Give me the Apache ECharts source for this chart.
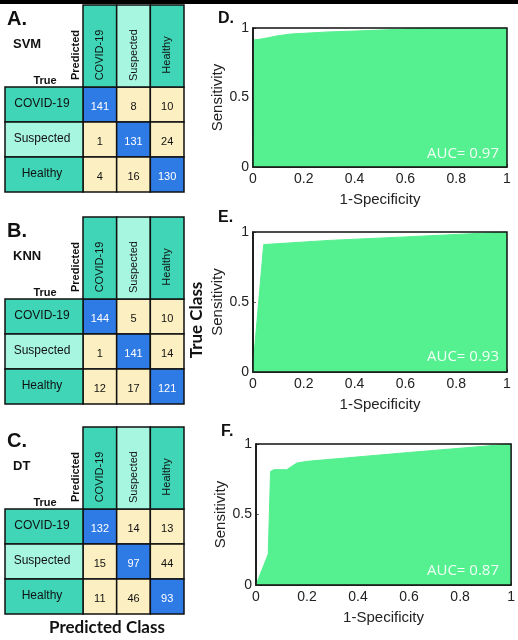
<!DOCTYPE html>
<html lang="en">
<head>
    <meta charset="utf-8">
    <title>Confusion matrices and ROC curves</title>
    <script src="https://cdn.jsdelivr.net/npm/echarts@6/dist/echarts.min.js"></script>
    <style>
        html, body { margin: 0; padding: 0; background: #fff; }
        #main { width: 518px; height: 640px; }
    </style>
</head>
<body>
<div id="main"></div>
<script type="text/javascript">
// 类别与混淆矩阵
var classes = ['COVID-19', 'Suspected', 'Healthy'];
var svmMatrix = [[141, 8, 10], [1, 131, 24], [4, 16, 130]];
var knnMatrix = [[144, 5, 10], [1, 141, 14], [12, 17, 121]];
var dtMatrix  = [[132, 14, 13], [15, 97, 44], [11, 46, 93]];
var modelNames = ['SVM', 'KNN', 'DT'];
var panelLetters = ['A.', 'B.', 'C.'];
var rocLetters = ['D.', 'E.', 'F.'];

// ROC 曲线 (1-Specificity, Sensitivity)
var svmFpr = [0, 0.005, 0.03, 0.06, 0.1, 0.15, 0.2, 0.3, 0.4, 0.5, 0.6, 0.7, 1];
var svmTpr = [0, 0.915, 0.92, 0.93, 0.945, 0.957, 0.962, 0.972, 0.978, 0.985, 0.993, 1, 1];
var knnFpr = [0, 0.004, 0.042, 0.3, 0.6, 1];
var knnTpr = [0, 0.12, 0.91, 0.94, 0.965, 1];
var dtFpr = [0, 0.048, 0.057, 0.07, 0.12, 0.16, 0.2, 0.6, 1];
var dtTpr = [0, 0.22, 0.805, 0.818, 0.818, 0.865, 0.877, 0.94, 1];
var aucValues = ['0.97', '0.93', '0.87'];

var matrices = [svmMatrix, knnMatrix, dtMatrix];
var rocData = [[svmFpr, svmTpr], [knnFpr, knnTpr], [dtFpr, dtTpr]];

var teal = '#3fd5b6', lightTeal = '#a7f6e0', beige = '#fcefc2', blue = '#2f7be6', green = '#55f08f';
var labelColors = [teal, lightTeal, teal];

var matTops = [5, 217, 427];
var rocGrids = [
    {left: 253, top: 28, width: 254, height: 139},
    {left: 253, top: 232, width: 254, height: 140},
    {left: 256, top: 444, width: 256, height: 141}
];
var letterY = [19, 218, 432];
var aucY = [154, 357, 571];

var grid = [], xAxis = [], yAxis = [], series = [], graphic = [];

function cellRect(api, fill) {
    var c = api.coord([api.value(0), api.value(1)]);
    var s = api.size([1, 1]);
    return {c: c, s: s, rect: {
        type: 'rect',
        shape: {x: c[0] - s[0] / 2, y: c[1] - s[1] / 2, width: s[0], height: s[1]},
        style: {fill: fill, stroke: '#111', lineWidth: 1.5}
    }};
}

function renderCell(params, api) {
    var diag = api.value(0) === api.value(1);
    var o = cellRect(api, diag ? blue : beige);
    return {type: 'group', children: [o.rect, {
        type: 'text', x: o.c[0], y: o.c[1] + 2,
        style: {text: String(api.value(2)), fill: diag ? '#ffffff' : '#111',
            font: '11px "Liberation Sans", Arial', align: 'center', verticalAlign: 'middle'}
    }]};
}

function renderHeader(params, api) {
    var i = api.value(0);
    var o = cellRect(api, labelColors[i]);
    return {type: 'group', children: [o.rect, {
        type: 'text', x: o.c[0], y: o.c[1] + 9, rotation: Math.PI / 2,
        style: {text: classes[i], fill: '#111', font: '11px "Liberation Sans", Arial',
            align: 'center', verticalAlign: 'middle'}
    }]};
}

function renderRowLabel(params, api) {
    var i = api.value(1);
    var o = cellRect(api, labelColors[i]);
    return {type: 'group', children: [o.rect, {
        type: 'text', x: o.c[0] - 2, y: o.c[1] - 1,
        style: {text: classes[i], fill: '#111', font: '12px "Liberation Sans", Arial',
            align: 'center', verticalAlign: 'middle'}
    }]};
}

for (var m = 0; m < 3; m++) {
    var mTop = matTops[m];
    var g = grid.length;
    // 数据格子
    grid.push({left: 83, top: mTop + 82, width: 101, height: 105});
    xAxis.push({type: 'category', data: classes, gridIndex: g, show: false});
    yAxis.push({type: 'category', data: classes, gridIndex: g, inverse: true, show: false});
    // 列标题
    grid.push({left: 83, top: mTop, width: 101, height: 82});
    xAxis.push({type: 'category', data: classes, gridIndex: g + 1, show: false});
    yAxis.push({type: 'category', data: ['Predicted'], gridIndex: g + 1, show: false});
    // 行标题
    grid.push({left: 5, top: mTop + 82, width: 78, height: 105});
    xAxis.push({type: 'category', data: ['True'], gridIndex: g + 2, show: false});
    yAxis.push({type: 'category', data: classes, gridIndex: g + 2, inverse: true, show: false});

    var cells = [];
    matrices[m].forEach(function (row, r) {
        row.forEach(function (v, c) { cells.push([c, r, v]); });
    });
    series.push({type: 'custom', xAxisIndex: g, yAxisIndex: g, data: cells, silent: true, renderItem: renderCell});
    series.push({type: 'custom', xAxisIndex: g + 1, yAxisIndex: g + 1, silent: true,
        data: [[0, 0], [1, 0], [2, 0]], renderItem: renderHeader});
    series.push({type: 'custom', xAxisIndex: g + 2, yAxisIndex: g + 2, silent: true,
        data: [[0, 0], [0, 1], [0, 2]], renderItem: renderRowLabel});

    graphic.push({type: 'text', x: 7, y: mTop + 14,
        style: {text: panelLetters[m], fill: '#111', font: 'bold 20px "Liberation Sans", Arial', verticalAlign: 'middle'}});
    graphic.push({type: 'text', x: 13, y: mTop + 39,
        style: {text: modelNames[m], fill: '#111', font: 'bold 13px "Liberation Sans", Arial', verticalAlign: 'middle'}});
    graphic.push({type: 'text', x: 45, y: mTop + 76,
        style: {text: 'True', fill: '#111', font: 'bold 11px "Liberation Sans", Arial', align: 'center', verticalAlign: 'middle'}});
    graphic.push({type: 'text', x: 76, y: mTop + 50, rotation: Math.PI / 2,
        style: {text: 'Predicted', fill: '#111', font: 'bold 11px "Liberation Sans", Arial', align: 'center', verticalAlign: 'middle'}});
}

for (var k = 0; k < 3; k++) {
    var gi = grid.length;
    var rg = rocGrids[k];
    grid.push({left: rg.left, top: rg.top, width: rg.width, height: rg.height, z: 5,
        show: true, borderColor: '#111', borderWidth: 1.5});
    xAxis.push({
        type: 'value', gridIndex: gi, min: 0, max: 1, interval: 0.2,
        name: '1-Specificity', nameLocation: 'middle', nameGap: 25,
        nameTextStyle: {fontSize: 15, color: '#222', fontFamily: '"Liberation Sans", Arial'},
        axisLine: {lineStyle: {color: '#111', width: 1.5}},
        axisTick: {inside: true, length: 3, lineStyle: {color: '#666'}},
        axisLabel: {fontSize: 14, color: '#222', margin: 5, fontFamily: '"Liberation Sans", Arial'},
        splitLine: {show: false}
    });
    yAxis.push({
        type: 'value', gridIndex: gi, min: 0, max: 1, interval: 0.5,
        name: 'Sensitivity', nameLocation: 'middle', nameGap: 28,
        nameTextStyle: {fontSize: 15, color: '#222', fontFamily: '"Liberation Sans", Arial'},
        axisLine: {lineStyle: {color: '#111', width: 1.5}},
        axisTick: {inside: true, length: 3, lineStyle: {color: '#666'}},
        axisLabel: {fontSize: 14, color: '#222', margin: 4, fontFamily: '"Liberation Sans", Arial'},
        splitLine: {show: false}
    });
    var pts = [];
    for (var i = 0; i < rocData[k][0].length; i++) pts.push([rocData[k][0][i], rocData[k][1][i]]);
    series.push({
        type: 'line', xAxisIndex: gi, yAxisIndex: gi, symbol: 'none', silent: true,
        data: pts,
        lineStyle: {color: green, width: 1},
        areaStyle: {color: green, opacity: 1},
        z: 1
    });
    graphic.push({type: 'text', x: rg.left - 35, y: letterY[k],
        style: {text: rocLetters[k], fill: '#111', font: 'bold 16px "Liberation Sans", Arial', verticalAlign: 'middle'}});
    graphic.push({type: 'text', x: 499, y: aucY[k], z: 10,
        style: {text: 'AUC= ' + aucValues[k], fill: '#f0fff5', font: '15px "Open Sans", Arial',
            align: 'right', verticalAlign: 'middle'}});
}

graphic.push({type: 'rect', shape: {x: 0, y: 0, width: 518, height: 4}, style: {fill: '#000'}});
graphic.push({type: 'text', x: 197, y: 320, rotation: Math.PI / 2,
    style: {text: 'True Class', fill: '#111', font: 'bold 17px Lato, "Liberation Sans", Arial',
        align: 'center', verticalAlign: 'middle'}});
graphic.push({type: 'text', x: 107, y: 628,
    style: {text: 'Predicted Class', fill: '#111', font: 'bold 17px Lato, "Liberation Sans", Arial',
        align: 'center', verticalAlign: 'middle'}});

var myChart = echarts.init(document.getElementById('main'));
myChart.setOption({
    animation: false,
    grid: grid,
    xAxis: xAxis,
    yAxis: yAxis,
    series: series,
    graphic: graphic
});
window.addEventListener('resize', function () { myChart.resize(); });
</script>
</body>
</html>
